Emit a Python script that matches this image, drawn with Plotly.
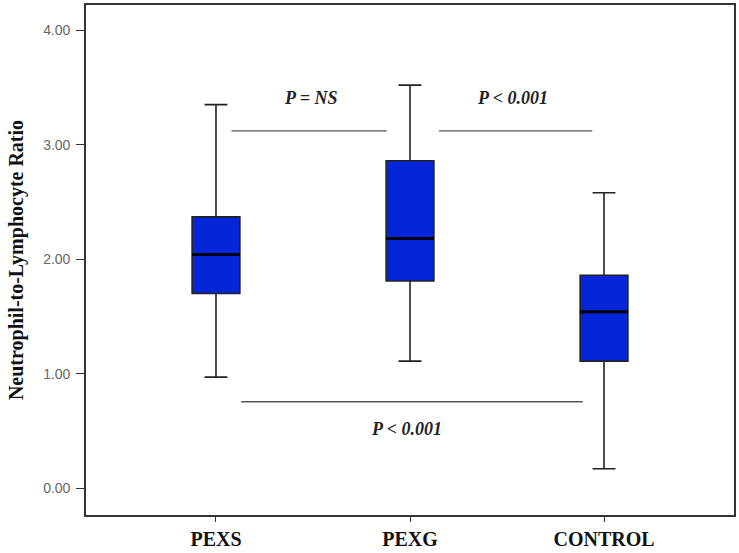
import plotly.graph_objects as go

categories = ["PEXS", "PEXG", "CONTROL"]
lower_whisker = [0.97, 1.11, 0.17]
q1_values = [1.70, 1.81, 1.11]
median_values = [2.04, 2.18, 1.54]
q3_values = [2.37, 2.86, 1.86]
upper_whisker = [3.35, 3.52, 2.58]

y_tick_values = [0, 1, 2, 3, 4]
y_tick_labels = ["0.00", "1.00", "2.00", "3.00", "4.00"]

# significance brackets
sig_x0 = [0.08, 1.15, 0.13]
sig_x1 = [0.88, 1.94, 1.89]
sig_y = [3.12, 3.12, 0.755]
sig_labels = ["P = NS", "P < 0.001", "P < 0.001"]
sig_label_x = [0.49, 1.53, 0.98]
sig_label_y = [3.41, 3.41, 0.52]

xpos = list(range(len(categories)))
box_w = 0.246

fig = go.Figure()
fig.add_trace(go.Box(
    x=xpos, q1=q1_values, median=median_values, q3=q3_values,
    lowerfence=lower_whisker, upperfence=upper_whisker,
    width=box_w, whiskerwidth=0.48,
    fillcolor="#0526D8", line=dict(color="#222222", width=1.6),
    boxpoints=False, showlegend=False, hoverinfo="skip",
))
# thicker median lines
for xi, m in zip(xpos, median_values):
    fig.add_trace(go.Scatter(
        x=[xi - box_w / 2, xi + box_w / 2], y=[m, m], mode="lines",
        line=dict(color="#000000", width=3), showlegend=False, hoverinfo="skip",
    ))
for x0, x1, yv in zip(sig_x0, sig_x1, sig_y):
    fig.add_trace(go.Scatter(
        x=[x0, x1], y=[yv, yv], mode="lines",
        line=dict(color="#555555", width=1.3), showlegend=False, hoverinfo="skip",
    ))
for lab, lx, ly in zip(sig_labels, sig_label_x, sig_label_y):
    fig.add_annotation(
        x=lx, y=ly, text="<b><i>" + lab + "</i></b>", showarrow=False,
        font=dict(family="Liberation Serif", size=18, color="#222222"),
    )

fig.update_layout(
    width=739, height=553,
    margin=dict(l=86, r=3, t=3, b=37),
    paper_bgcolor="white", plot_bgcolor="white",
    xaxis=dict(
        range=[-0.67, 2.67], tickvals=xpos,
        ticktext=["<b>" + c + "</b>" for c in categories],
        tickfont=dict(family="Liberation Serif", size=20, color="#111111"),
        showgrid=False, zeroline=False, showline=True, mirror=True,
        linecolor="#333333", linewidth=1.6,
        ticks="outside", ticklen=5, tickcolor="#333333", tickwidth=1.2,
    ),
    yaxis=dict(
        range=[-0.234, 4.22], tickvals=y_tick_values, ticktext=y_tick_labels,
        tickfont=dict(family="Liberation Sans", size=14, color="#666666"),
        showgrid=False, zeroline=False, showline=True, mirror=True,
        linecolor="#333333", linewidth=1.6,
        ticks="outside", ticklen=8, tickcolor="#333333", tickwidth=1.2,
        ticklabelstandoff=3,
        title=dict(text="<b>Neutrophil-to-Lymphocyte Ratio</b>",
                   font=dict(family="Liberation Serif", size=20, color="#111111"),
                   standoff=14),
    ),
)

fig.write_html(
    "out.html",
    config={"displayModeBar": False},
    post_script="document.body.style.margin='0';document.body.style.overflow='hidden';",
)
